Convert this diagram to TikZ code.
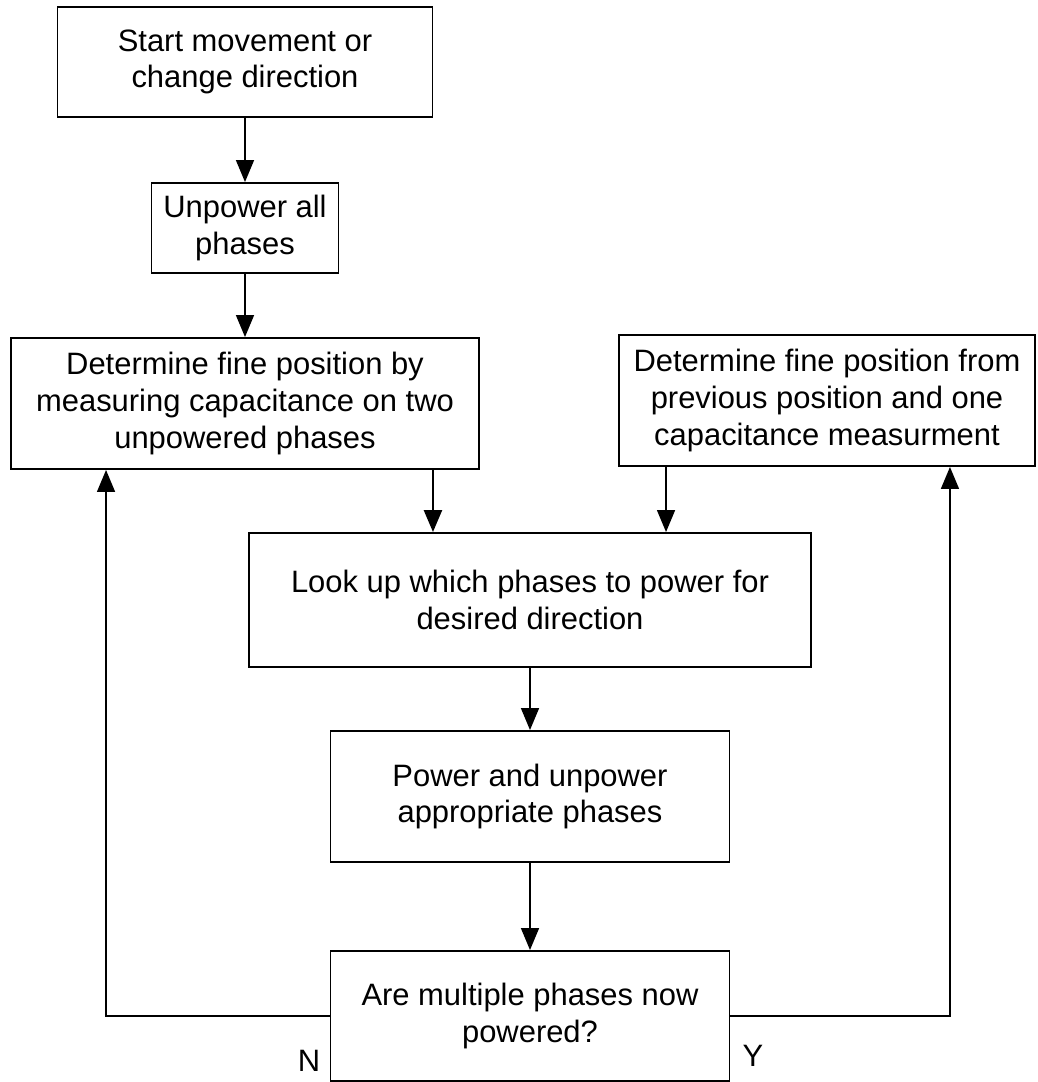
\documentclass[tikz,border=0pt]{standalone}
\usepackage{fontspec}
\setmainfont{Liberation Sans}
\usetikzlibrary{arrows.meta}

\begin{document}
\begin{tikzpicture}[
  stepbox/.style={draw, line width=1.1pt, align=center, inner sep=2pt,
                  font=\fontsize{17.6pt}{20.8pt}\selectfont},
  arr/.style={-{Triangle[length=0.44cm, width=0.36cm]}, line width=0.9pt},
  lbl/.style={font=\fontsize{17.6pt}{20.8pt}\selectfont},
]
\useasboundingbox (0,0) rectangle (20.74,-21.64);

\node[stepbox, minimum width=7.5cm, minimum height=2.2cm]
  (start) at (4.9,-1.24) {Start movement or\\change direction};
\node[stepbox, minimum width=3.74cm, minimum height=1.8cm]
  (unpower) at (4.9,-4.56) {Unpower all\\phases};
\node[stepbox, minimum width=9.36cm, minimum height=2.62cm]
  (meas) at (4.9,-8.07) {Determine fine position by\\measuring capacitance on two\\unpowered phases};
\node[stepbox, minimum width=8.32cm, minimum height=2.62cm]
  (prev) at (16.54,-8.01) {Determine fine position from\\previous position and one\\capacitance measurment};

\node[stepbox, minimum width=11.24cm, minimum height=2.68cm]
  (lookup) at (10.6,-12.0) {Look up which phases to power for\\desired direction};
\node[stepbox, minimum width=7.98cm, minimum height=2.62cm]
  (power) at (10.6,-15.93) {Power and unpower\\appropriate phases};
\node[stepbox, minimum width=7.98cm, minimum height=2.6cm]
  (multi) at (10.6,-20.32) {Are multiple phases now\\powered?};

\node[lbl] (nlab) at (6.18,-21.22) {N};
\node[lbl] (ylab) at (15.06,-21.12) {Y};

\coordinate (measin) at ([xshift=1.92cm]meas.south west);
\coordinate (previn) at ([xshift=-1.72cm]prev.south east);
\coordinate (nturn) at (measin |- multi.west);
\coordinate (yturn) at (previn |- multi.east);

\draw[arr] (start.south) -- (unpower.north);
\draw[arr] (unpower.south) -- (meas.north);
\draw[arr, line width=1.4pt] ([xshift=-0.94cm]meas.south east)
  -- ([xshift=-0.94cm]meas.south east |- lookup.north);
\draw[arr] ([xshift=0.96cm]prev.south west)
  -- ([xshift=0.96cm]prev.south west |- lookup.north);
\draw[arr] (lookup.south) -- (power.north);
\draw[arr] (power.south) -- (multi.north);

\draw[arr] (multi.west) -- (nturn) -- (measin);
\draw[arr] (multi.east) -- (yturn) -- (previn);
\end{tikzpicture}
\end{document}
